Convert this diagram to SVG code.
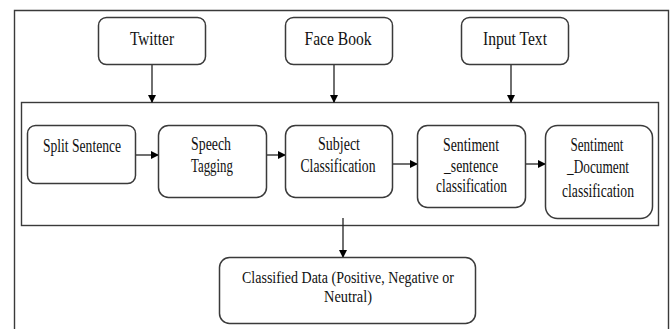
<svg xmlns="http://www.w3.org/2000/svg" width="670" height="329" viewBox="0 0 670 329">
<style>
.box{fill:#fff;stroke:#3a3a3a;stroke-width:1.5}
.frame{fill:none;stroke:#3a3a3a;stroke-width:1.4}
.t{font-family:'Liberation Serif','Times New Roman',serif;font-size:19px;fill:#111;text-anchor:middle}
.s{font-size:16.5px}
.c{stroke:#222;stroke-width:1.3;fill:none}
</style>
<defs>
<marker id="ah" markerWidth="8" markerHeight="8" refX="7" refY="4" orient="auto" markerUnits="userSpaceOnUse">
<path d="M0,0 L8,4 L0,8 Z" fill="#000"/>
</marker>
</defs>
<rect width="670" height="329" fill="#fff"/>
<g id="outer"><path class="frame" d="M14.5,335 V10.5 H668.5 V335"/></g>
<g id="process"><rect class="frame" x="21.5" y="102.5" width="637" height="123"/></g>

<g id="connectors">
<line class="c" x1="152" y1="64" x2="152" y2="102" marker-end="url(#ah)"/>
<line class="c" x1="334" y1="64" x2="334" y2="102" marker-end="url(#ah)"/>
<line class="c" x1="511" y1="64" x2="511" y2="102" marker-end="url(#ah)"/>
<line class="c" x1="136" y1="155" x2="158" y2="155" marker-end="url(#ah)"/>
<line class="c" x1="267" y1="155" x2="285" y2="155" marker-end="url(#ah)"/>
<line class="c" x1="393" y1="164" x2="417" y2="164" marker-end="url(#ah)"/>
<line class="c" x1="525" y1="164" x2="545" y2="164" marker-end="url(#ah)"/>
<line class="c" x1="343" y1="218" x2="343" y2="257" marker-end="url(#ah)"/>
</g>

<g id="twitter"><rect class="box" x="98.5" y="17.5" width="107" height="47" rx="8"/><text class="t" x="152" y="45" textLength="44" lengthAdjust="spacingAndGlyphs">Twitter</text></g>
<g id="facebook"><rect class="box" x="285.5" y="17.5" width="107" height="47" rx="8"/><text class="t" x="338" y="45" textLength="67" lengthAdjust="spacingAndGlyphs">Face Book</text></g>
<g id="inputtext"><rect class="box" x="461.5" y="17.5" width="107" height="47" rx="8"/><text class="t" x="515" y="45" textLength="64" lengthAdjust="spacingAndGlyphs">Input Text</text></g>

<g id="split"><rect class="box" x="27.5" y="125.5" width="108" height="58" rx="8"/><text class="t" x="82" y="151.5" textLength="78" lengthAdjust="spacingAndGlyphs">Split Sentence</text></g>
<g id="speech"><rect class="box" x="158.5" y="125.5" width="108" height="72" rx="10"/><text class="t" x="211" y="150" textLength="40" lengthAdjust="spacingAndGlyphs">Speech</text><text class="t" x="212" y="172" textLength="42" lengthAdjust="spacingAndGlyphs">Tagging</text></g>
<g id="subject"><rect class="box" x="285.5" y="125.5" width="107" height="72" rx="10"/><text class="t" x="339" y="150" textLength="42" lengthAdjust="spacingAndGlyphs">Subject</text><text class="t" x="338" y="172" textLength="75" lengthAdjust="spacingAndGlyphs">Classification</text></g>
<g id="sentence"><rect class="box" x="417.5" y="125.5" width="108" height="82" rx="10"/><text class="t" x="471" y="150.5" textLength="56" lengthAdjust="spacingAndGlyphs">Sentiment</text><text class="t" x="471" y="171.5" textLength="54" lengthAdjust="spacingAndGlyphs">_sentence</text><text class="t" x="471.5" y="191.5" textLength="71" lengthAdjust="spacingAndGlyphs">classification</text></g>
<g id="document"><rect class="box" x="545.5" y="125.5" width="107" height="93" rx="12"/><text class="t" x="597" y="150.5" textLength="53" lengthAdjust="spacingAndGlyphs">Sentiment</text><text class="t" x="598" y="173" textLength="62" lengthAdjust="spacingAndGlyphs">_Document</text><text class="t" x="598" y="196.5" textLength="72" lengthAdjust="spacingAndGlyphs">classification</text></g>

<g id="classified"><rect class="box" x="219.5" y="257.5" width="256" height="66" rx="10"/><text class="t s" x="348" y="283" textLength="212" lengthAdjust="spacingAndGlyphs">Classified Data (Positive, Negative or</text><text class="t s" x="348" y="302" textLength="48" lengthAdjust="spacingAndGlyphs">Neutral)</text></g>
</svg>
